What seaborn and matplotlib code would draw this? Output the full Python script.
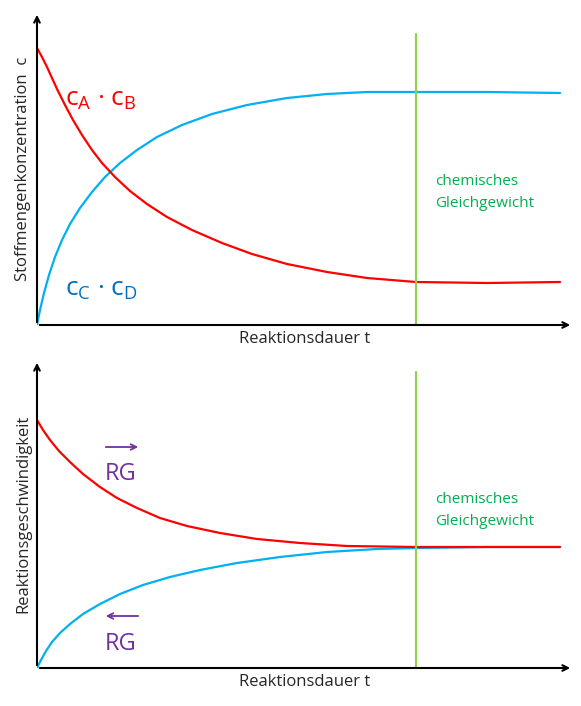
import matplotlib.pyplot as plt
import seaborn as sns
import pandas as pd

sns.set_style("white")
plt.rcParams["font.family"] = ["Open Sans", "DejaVu Sans"]

# top chart: concentration over time (t in arbitrary units 0..533)
t_red_c = [0, 5, 10, 15, 20, 28, 36, 45, 55, 65, 78, 93, 110, 130, 155, 185, 215, 250, 290, 330, 379, 450, 523]
c_red = [277, 268, 258, 247, 236, 220, 205, 190, 175, 162, 148, 134, 121, 108, 95, 82, 71, 61, 53, 47, 43, 42, 43]
t_blue_c = [0, 3, 7, 12, 18, 25, 33, 43, 55, 68, 83, 100, 120, 145, 175, 210, 250, 290, 330, 379, 450, 523]
c_blue = [0, 15, 32, 50, 68, 85, 101, 117, 133, 148, 162, 175, 188, 200, 211, 220, 227, 231, 233, 233, 233, 232]

# bottom chart: reaction rate over time
t_red_v = [0, 6, 13, 22, 33, 46, 63, 80, 100, 123, 150, 183, 220, 263, 310, 379, 450, 523]
v_red = [248, 238, 228, 217, 206, 194, 181, 170, 160, 150, 142, 135, 129, 125, 122, 121, 121, 121]
t_blue_v = [0, 4, 9, 15, 23, 33, 46, 63, 83, 106, 133, 163, 200, 243, 290, 340, 379, 450, 523]
v_blue = [0, 8, 17, 26, 35, 44, 54, 64, 74, 83, 91, 98, 105, 111, 116, 119, 120, 121, 121]

t_eq = 379
RED, BLUE, GREEN, TXTGREEN, PURPLE = "#FF0000", "#00B0F0", "#92D050", "#00B050", "#7030A0"

fig = plt.figure(figsize=(5.81, 7.06), dpi=100)
ax1 = fig.add_axes([37 / 581, 381 / 706, 536 / 581, 313 / 706])
ax2 = fig.add_axes([37 / 581, 38 / 706, 536 / 581, 308 / 706])


def draw_axes(ax, ytop, xlabel, ylabel):
    ax.set_xlim(0, 536)
    ax.set_ylim(0, ytop)
    for s in ax.spines.values():
        s.set_visible(False)
    ax.set_xticks([])
    ax.set_yticks([])
    ax.annotate("", xy=(1, 0), xytext=(0, 0), xycoords="axes fraction",
                arrowprops=dict(arrowstyle="->", color="black", lw=1.5))
    ax.annotate("", xy=(0, 1), xytext=(0, 0), xycoords="axes fraction",
                arrowprops=dict(arrowstyle="->", color="black", lw=1.5))
    ax.set_xlabel(xlabel, fontsize=12, labelpad=4)
    ax.set_ylabel(ylabel, fontsize=12, labelpad=4)


top = pd.DataFrame({"t": t_red_c, "c": c_red})
topb = pd.DataFrame({"t": t_blue_c, "c": c_blue})
sns.lineplot(data=topb, x="t", y="c", ax=ax1, color=BLUE, lw=1.6)
sns.lineplot(data=top, x="t", y="c", ax=ax1, color=RED, lw=1.6)
ax1.axvline(t_eq, ymax=0.93, color=GREEN, lw=1.6)
draw_axes(ax1, 313, "Reaktionsdauer t", "Stoffmengenkonzentration  c")
ax1.text(28, 220, r"c$_\mathregular{A}$ · c$_\mathregular{B}$", color=RED, fontsize=19)
ax1.text(28, 30, r"c$_\mathregular{C}$ · c$_\mathregular{D}$", color="#0070C0", fontsize=19)
ax1.text(398, 118, "chemisches\nGleichgewicht", color=TXTGREEN, fontsize=11, linespacing=1.6)

bot = pd.DataFrame({"t": t_red_v, "v": v_red})
botb = pd.DataFrame({"t": t_blue_v, "v": v_blue})
sns.lineplot(data=botb, x="t", y="v", ax=ax2, color=BLUE, lw=1.6)
sns.lineplot(data=bot, x="t", y="v", ax=ax2, color=RED, lw=1.6)
ax2.axvline(t_eq, ymax=0.96, color=GREEN, lw=1.6)
draw_axes(ax2, 308, "Reaktionsdauer t", "Reaktionsgeschwindigkeit")
ax2.text(68, 188, "RG", color=PURPLE, fontsize=17)
ax2.annotate("", xy=(104, 221), xytext=(66, 221),
             arrowprops=dict(arrowstyle="->", color=PURPLE, lw=1.3))
ax2.text(68, 18, "RG", color=PURPLE, fontsize=17)
ax2.annotate("", xy=(66, 52), xytext=(104, 52),
             arrowprops=dict(arrowstyle="->", color=PURPLE, lw=1.3))
ax2.text(398, 143, "chemisches\nGleichgewicht", color=TXTGREEN, fontsize=11, linespacing=1.6)

fig.savefig("out.png", dpi=100)
